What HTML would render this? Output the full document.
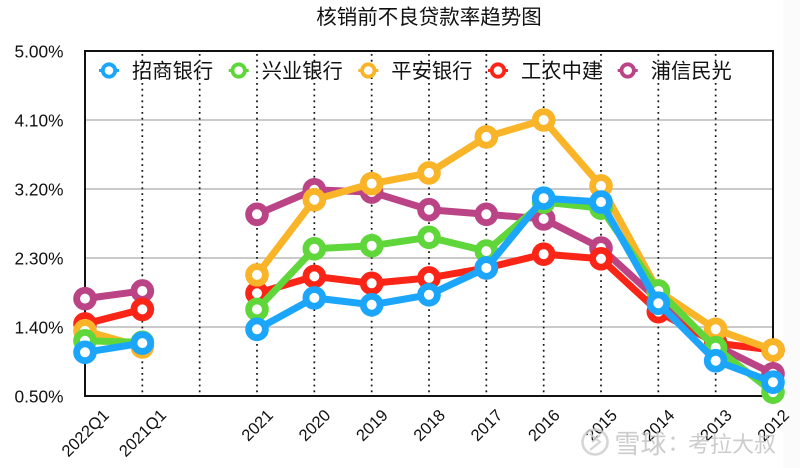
<!DOCTYPE html>
<html lang="zh">
<head>
<meta charset="utf-8">
<title>核销前不良贷款率趋势图</title>
<style>
html,body{margin:0;padding:0;background:#fff;}
body{width:800px;height:468px;overflow:hidden;}
svg{display:block;}
text{font-family:"Liberation Sans","Noto Sans CJK SC",sans-serif;}
</style>
</head>
<body>
<svg id="chart" xmlns="http://www.w3.org/2000/svg" width="800" height="468" viewBox="0 0 800 468"></svg>
<script>
const categories = ["2022Q1","2021Q1","","2021","2020","2019","2018","2017","2016","2015","2014","2013","2012"];
const yTicks = [0.5,1.4,2.3,3.2,4.1,5.0];
const seriesNames = ["招商银行","兴业银行","平安银行","工农中建","浦信民光"];
const zhaoshang = [1.07,1.19,null,1.37,1.78,1.69,1.82,2.17,3.08,3.03,1.71,0.96,0.68];
const xingye = [1.22,1.20,null,1.63,2.42,2.46,2.57,2.39,3.03,2.95,1.87,1.13,0.55];
const pingan = [1.35,1.14,null,2.08,3.06,3.27,3.41,3.88,4.10,3.24,1.87,1.37,1.10];
const gongnong = [1.44,1.63,null,1.84,2.06,1.97,2.04,2.17,2.35,2.29,1.60,1.19,1.10];
const puxin = [1.77,1.87,null,2.87,3.19,3.16,2.93,2.87,2.81,2.43,1.75,1.16,0.79];

const NS = "http://www.w3.org/2000/svg";
const svg = document.getElementById("chart");
const L = 85, R = 773, T = 51, B = 396;
const xScale = i => L + (R - L) * i / (categories.length - 1);
const yScale = v => B - (v - 0.5) / 4.5 * (B - T);
function mk(tag, attrs, parent) {
  const el = document.createElementNS(NS, tag);
  for (const k in attrs) el.setAttribute(k, attrs[k]);
  (parent || svg).appendChild(el);
  return el;
}

const sideTint = mk("rect", {x:783,y:0,width:17,height:468,fill:"#fbfbfb"});



const title = mk("text", {x:429,y:24,"text-anchor":"middle","font-size":"20.5",fill:"#111"});
title.textContent = "核销前不良贷款率趋势图";



// horizontal grid + y labels
yTicks.forEach(v => {
  const y = yScale(v);
  if (v > 0.5 && v < 5) {
    const g = mk("line", {x1:L,x2:R,y1:y,y2:y,stroke:"#b9b9b9","stroke-width":1.6});
    
    
  }
  const t = mk("text", {x:63.5,y:y+6.4,"text-anchor":"end","font-size":"17.3",fill:"#111"});
  t.textContent = v.toFixed(2) + "%";
  
  
});

// vertical dotted lines
categories.forEach((c, i) => {
  if (i === 0 || i === categories.length - 1) return;
  const x = xScale(i);
  const d = mk("line", {x1:x,x2:x,y1:54,y2:393,stroke:"#111","stroke-width":1.7,"stroke-dasharray":"1.8 4"});
  
  
});

// plot frame
const frame = mk("rect", {x:L,y:T,width:R-L,height:B-T,fill:"none",stroke:"#111","stroke-width":2});



// x labels, centred horizontally on their tick
categories.forEach((c, i) => {
  if (!c) return;
  const t = mk("text", {"text-anchor":"middle","font-size":"16.5",fill:"#111"});
  t.textContent = c;
  const halfRise = t.getComputedTextLength() * 0.3535;
  const x = xScale(i) + 4.2, y = 416.2 + halfRise;
  t.setAttribute("x", x);
  t.setAttribute("y", y);
  t.setAttribute("transform", "rotate(-45 " + x + " " + y + ")");
  
  
});

// series (back to front)
const layers = [
  {values:puxin, color:"#bb4486", name:"series-puxin"},
  {values:gongnong, color:"#fb2517", name:"series-gongnong"},
  {values:pingan, color:"#fab428", name:"series-pingan"},
  {values:xingye, color:"#5fd63a", name:"series-xingye"},
  {values:zhaoshang, color:"#1ba6fb", name:"series-zhaoshang"}
];
layers.forEach(s => {
  const g = mk("g", {});
  
  
  let d = "", pen = false;
  s.values.forEach((v, i) => {
    if (v === null) { pen = false; return; }
    d += (pen ? "L" : "M") + xScale(i) + " " + yScale(v);
    pen = true;
  });
  mk("path", {d:d,fill:"none",stroke:s.color,"stroke-width":7,"stroke-linejoin":"round"}, g);
  s.values.forEach((v, i) => {
    if (v === null) return;
    const p = mk("circle", {cx:xScale(i),cy:yScale(v),r:8.4,fill:"#fff",stroke:s.color,"stroke-width":6.8}, g);
    
    
  });
});

// legend
const legendColors = ["#1ba6fb","#5fd63a","#fab428","#fb2517","#bb4486"];
const legendStarts = [109,238.7,368.3,498,627.7];
seriesNames.forEach((n, i) => {
  const g = mk("g", {});
  
  
  const cx = legendStarts[i], cy = 70.5;
  mk("line", {x1:cx-10,x2:cx+10,y1:cy,y2:cy,stroke:legendColors[i],"stroke-width":3}, g);
  mk("circle", {cx:cx,cy:cy,r:6.2,fill:"#fff",stroke:legendColors[i],"stroke-width":3.8}, g);
  const t = mk("text", {x:cx+23,y:78,"font-size":"20.3",fill:"#111"}, g);
  t.textContent = n;
});

// watermark
const wm = mk("g", {opacity:0.85});


mk("circle", {cx:595,cy:442,r:12.5,fill:"none",stroke:"#cfcfcf","stroke-width":2.6}, wm);
mk("path", {d:"M590 434L600 442L590 450M600 435L592 442",fill:"none",stroke:"#cfcfcf","stroke-width":2.2}, wm);
const wmA = mk("text", {x:614.5,y:453,"font-size":"26",fill:"#c4c4c4"}, wm);
wmA.textContent = "雪球";
const wmB = mk("text", {x:662,y:452,"font-size":"22",fill:"#c4c4c4",style:'font-family:"Noto Sans CJK JP",sans-serif'}, wm);
wmB.textContent = "：";
const wmC = mk("text", {x:688,y:452,"font-size":"22",fill:"#c4c4c4"}, wm);
wmC.textContent = "考拉大叔";
</script>
</body>
</html>
